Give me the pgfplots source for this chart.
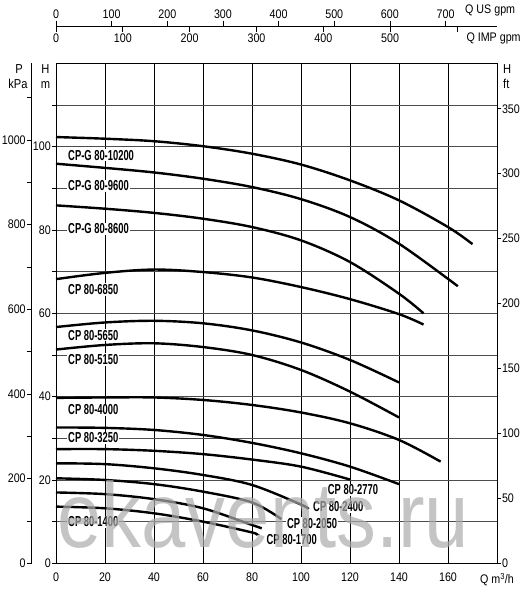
\documentclass[border=0pt]{standalone}
\usepackage{fontspec}
\setmainfont{Liberation Sans}[FakeStretch=0.86]
\newfontfamily\lblfont{Liberation Sans}[FakeStretch=0.65]
\usepackage{pgfplots}
\pgfplotsset{compat=1.18}
\newcommand\tfont{\fontsize{12.5}{14}\selectfont}
\newcommand\cfont{\lblfont\bfseries\fontsize{14.5}{16}\selectfont}
\pgfplotsset{
  /pgf/number format/assume math mode=true,
  /pgf/number format/1000 sep={},
  every tick label/.append style={font=\tfont},
  base/.style={scale only axis, anchor=south west, axis line style={-, line width=0.9bp},
    tick style={black, line width=0.7bp}, tick align=outside},
  pc/.style={black, solid, line width=2.4bp, smooth, tension=0.55, mark=none},
}
\begin{document}
\begin{tikzpicture}
\useasboundingbox (0,0) rectangle (522bp,596bp);
% P kPa axis
\begin{axis}[base, at={(31.7bp,32.7bp)}, width=10bp, height=500bp,
  xmin=0, xmax=1, ymin=0, ymax=1181, axis x line=none, axis y line*=left,
  ytick={0,200,...,1000}, minor ytick={100,300,...,1100},
  major tick length=5bp, minor tick length=5bp,
  yticklabel style={inner sep=0.8bp}]
\end{axis}
% US gpm axis
\begin{axis}[base, at={(56bp,549.3bp)}, width=441bp, height=20bp,
  xmin=0, xmax=792.5, ymin=0, ymax=1, axis y line=none, axis x line*=top,
  xtick={0,100,...,700}, major tick length=6bp,
  xticklabel style={inner sep=1.5bp}, clip=false]
\node[anchor=west, font=\tfont] at (axis cs:729,1) [yshift=16.7bp] {Q US gpm};
\end{axis}
% IMP gpm axis
\begin{axis}[base, at={(56bp,569.3bp)}, width=441bp, height=20bp,
  xmin=0, xmax=659.9, ymin=0, ymax=1, axis y line=none, axis x line*=bottom,
  xtick={0,100,...,600}, xticklabels={0,100,200,300,400,500,{}}, major tick length=5bp,
  xticklabel style={inner sep=1.5bp}, clip=false]
\node[anchor=west, font=\tfont] at (axis cs:609,0) [yshift=-11.6bp] {Q IMP gpm};
\end{axis}
% H ft axis
\begin{axis}[base, at={(56bp,32.7bp)}, width=441bp, height=500bp,
  xmin=0, xmax=180, ymin=0, ymax=385, axis x line=none, axis y line*=right,
  ytick={0,50,...,350}, major tick length=4bp,
  yticklabel style={inner sep=0.8bp}]
\end{axis}
% main axis
\begin{axis}[base, at={(56bp,32.7bp)}, width=441bp, height=500bp,
  xmin=0, xmax=180, ymin=0, ymax=120,
  xtick={0,20,...,160}, ytick={0,20,...,100}, minor ytick={10,30,...,110},
  xtick pos=bottom, ytick pos=left, xtick style={draw=none},
  major tick length=4bp, minor tick length=4bp,
  grid=both,
  major x grid style={black, line width=0.8bp},
  major y grid style={black!70, line width=0.8bp},
  minor y grid style={black!70, line width=0.8bp},
  yticklabel style={inner sep=1bp},
  xticklabel style={yshift=-2bp},
  clip=false]
\addplot[pc] coordinates {(0,102.3)(20,101.9)(40,101.3)(60,100.1)(80,98.3)(100,95.7)(120,91.9)(140,87.1)(160,80.7)(170,76.6)};
\addplot[pc] coordinates {(0,95.9)(20,94.9)(40,93.8)(60,92.3)(80,90.3)(100,87.4)(120,83.1)(140,76.7)(164,66.5)};
\addplot[pc] coordinates {(0,85.9)(20,85.1)(40,84.1)(60,82.7)(80,80.7)(100,77.5)(120,72.3)(140,64.7)(150,60.0)};
\addplot[pc] coordinates {(0,68.2)(20,69.7)(40,70.5)(60,69.9)(80,68.6)(100,66.3)(120,63.4)(140,59.8)(150,57.3)};
\addplot[pc] coordinates {(0,56.7)(20,57.8)(40,58.2)(60,57.6)(80,55.9)(100,53.0)(120,48.8)(140,43.4)};
\addplot[pc] coordinates {(0,51.3)(20,52.4)(40,52.8)(60,51.9)(80,50.0)(100,46.4)(120,41.2)(140,35.0)};
\addplot[pc] coordinates {(0,39.7)(20,39.8)(40,39.8)(60,39.2)(80,38.0)(100,36.2)(120,33.6)(140,29.6)(157,24.4)};
\addplot[pc] coordinates {(0,32.6)(20,32.5)(40,32.0)(60,30.8)(80,28.9)(100,26.4)(120,23.2)(140,19.0)};
\addplot[pc] coordinates {(0,27.4)(20,27.4)(40,27.0)(60,26.2)(80,24.9)(100,23.2)(120,20.1)};
\addplot[pc] coordinates {(0,24.0)(20,23.8)(40,22.8)(60,21.2)(80,18.8)(100,14.1)(103,13.0)};
\addplot[pc] coordinates {(0,20.4)(20,20.0)(40,19.0)(60,17.2)(80,14.6)(92,10.6)};
\addplot[pc] coordinates {(0,17.0)(20,16.6)(40,15.4)(60,13.2)(80,9.2)(84,8.4)};
\addplot[pc] coordinates {(0,13.6)(20,13.2)(40,12.0)(60,10.0)(80,7.4)(81.5,6.9)};
% curve labels
\begin{scope}[every node/.style={anchor=west, fill=white, inner sep=1bp, font=\cfont}]
\node at (axis cs:4.5,97.9) {CP-G 80-10200};
\node at (axis cs:4.5,90.6) {CP-G 80-9600};
\node at (axis cs:4.5,80.3) {CP-G 80-8600};
\node at (axis cs:4.5,65.7) {CP 80-6850};
\node at (axis cs:4.5,54.7) {CP 80-5650};
\node at (axis cs:4.5,48.9) {CP 80-5150};
\node at (axis cs:4.5,36.8) {CP 80-4000};
\node at (axis cs:4.5,30.1) {CP 80-3250};
\node at (axis cs:110.5,17.6) {CP 80-2770};
\node at (axis cs:104.5,13.6) {CP 80-2400};
\node at (axis cs:93.8,9.6) {CP 80-2050};
\node at (axis cs:85.5,5.6) {CP 80-1700};
\node at (axis cs:4.5,10.0) {CP 80-1400};
\end{scope}
% axis titles
\begin{scope}[every node/.style={font=\fontsize{13}{15}\selectfont, inner sep=0pt}]
\node[anchor=base] at (rel axis cs:0,1) [xshift=-37bp, yshift=-10.2bp] {P};
\node[anchor=base] at (rel axis cs:0,1) [xshift=-38bp, yshift=-25.2bp] {kPa};
\node[anchor=base] at (rel axis cs:0,1) [xshift=-10.5bp, yshift=-10.2bp] {H};
\node[anchor=base] at (rel axis cs:0,1) [xshift=-10.5bp, yshift=-25.2bp] {m};
\node[anchor=base west] at (rel axis cs:1,1) [xshift=6bp, yshift=-10.2bp] {H};
\node[anchor=base west] at (rel axis cs:1,1) [xshift=6bp, yshift=-25.2bp] {ft};
\end{scope}
\node[anchor=north, font=\tfont, inner sep=0pt] at (axis cs:180,0) [yshift=-9.5bp] {Q m\textsuperscript{3}/h};
% watermark
\node[anchor=base west, inner sep=0pt, text=black!33, opacity=0.7,
  font=\fontsize{93}{95}\selectfont] at (axis cs:0.5,3.9) {ekavents.ru};
\end{axis}
\end{tikzpicture}
\end{document}
